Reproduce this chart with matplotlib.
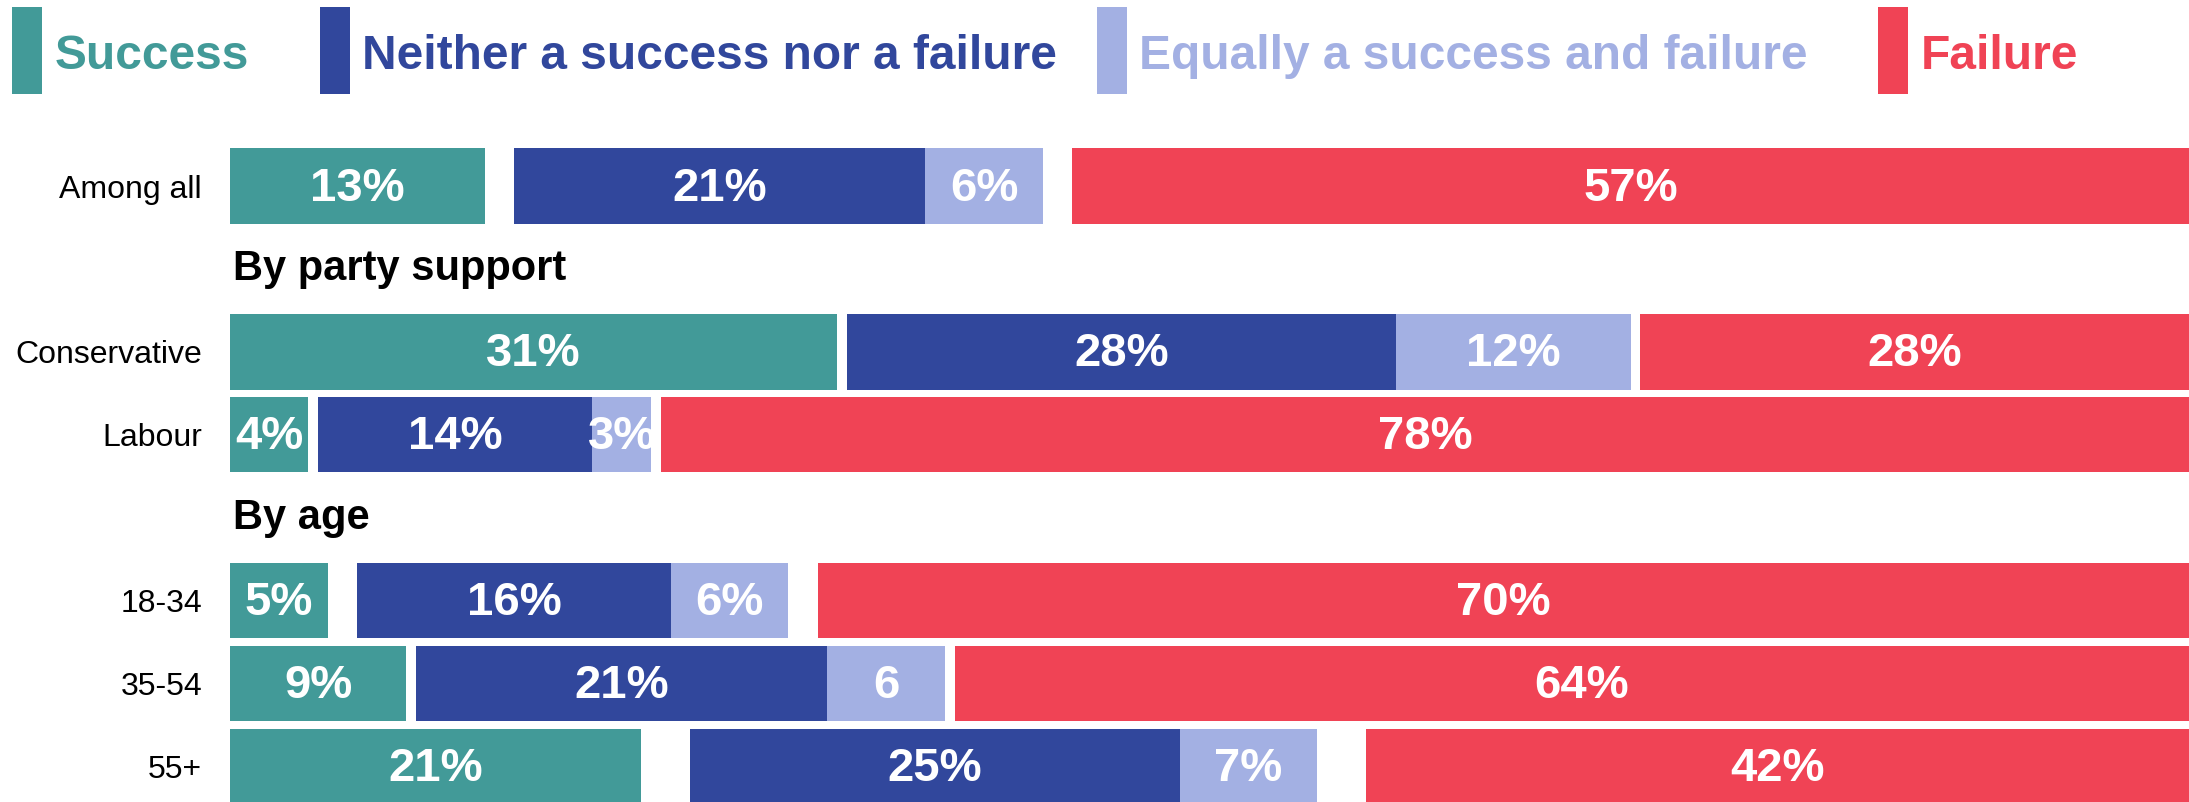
import numpy as np
import matplotlib
matplotlib.use('Agg')
import matplotlib.pyplot as plt
from matplotlib.patches import Rectangle

plt.rcParams['font.family'] = ['Liberation Sans Narrow', 'Liberation Sans', 'DejaVu Sans']

# data
groups = ['Among all', 'Conservative', 'Labour', '18-34', '35-54', '55+']
success = [13, 31, 4, 5, 9, 21]
neither = [21, 28, 14, 16, 21, 25]
equally = [6, 12, 3, 6, 6, 7]
failure = [57, 28, 78, 70, 64, 42]
dont_know = [3, 1, 1, 3, 1, 5]   # shown only as the gaps
equally_labels = ['6%', '12%', '3%', '6%', '6', '7%']
headers = ['By party support', 'By age']

series_names = ['Success', 'Neither a success nor a failure',
                'Equally a success and failure', 'Failure']
colors = ['#429a98', '#31479c', '#a3b0e3', '#f04355']

# row slots: headers take a slot of their own
row_slot = [0, 2, 3, 5, 6, 7]
header_slot = [1, 4]

fig = plt.figure(figsize=(21.89, 8.02), dpi=100)
ax = fig.add_axes([0.105, 0.0, 0.895, 0.83])

h = 0.91
for i, g in enumerate(groups):
    y = row_slot[i]
    gap = dont_know[i] / 2
    starts = [0,
              success[i] + gap,
              success[i] + gap + neither[i],
              success[i] + gap + neither[i] + equally[i] + gap]
    widths = [success[i], neither[i], equally[i], failure[i]]
    texts = ['%d%%' % success[i], '%d%%' % neither[i], equally_labels[i], '%d%%' % failure[i]]
    for s, w, c, t in zip(starts, widths, colors, texts):
        ax.barh(y, w, left=s, height=h, color=c, edgecolor='none')
        ax.text(s + w / 2, y + 0.03, t, ha='center', va='center', color='white',
                fontsize=34, fontweight='bold')

for hs, ht in zip(header_slot, headers):
    ax.text(0.15, hs, ht, ha='left', va='center', fontsize=30, fontweight='bold', color='black')

ax.set_xlim(0, 100)
ax.set_ylim(7.43, -0.6)
ax.set_yticks(row_slot)
ax.set_yticklabels(groups, fontsize=23)
ax.tick_params(axis='y', length=0, pad=20)
ax.set_xticks([])
for sp in ax.spines.values():
    sp.set_visible(False)

# legend drawn by hand across the top
leg_x = [0.0055, 0.146, 0.501, 0.858]
for x0, name, c in zip(leg_x, series_names, colors):
    fig.patches.append(Rectangle((x0, 0.883), 0.0137, 0.108, transform=fig.transFigure,
                                 facecolor=c, edgecolor='none'))
    fig.text(x0 + 0.0195, 0.93, name, color=c, fontsize=34.5, fontweight='bold',
             ha='left', va='center')

fig.savefig('out.png', dpi=100)
